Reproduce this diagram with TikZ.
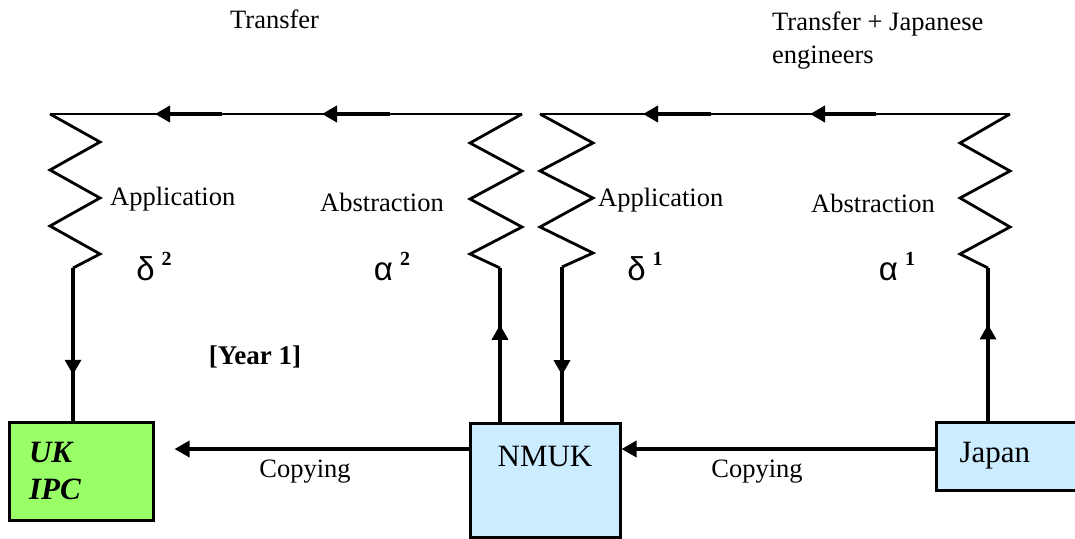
\documentclass[tikz,border=0pt]{standalone}
\usepackage{fontspec}
\setmainfont{Liberation Serif}
\newfontfamily\greekfont{Liberation Sans}
\usetikzlibrary{arrows.meta,decorations.markings}
\definecolor{ipcgreen}{HTML}{99FF66}
\definecolor{nmukblue}{HTML}{CCECFF}
\newcommand{\gsym}[2]{{\greekfont\fontsize{33}{33}\selectfont #1}\hspace{7pt}\raisebox{15pt}{\fontsize{20}{20}\selectfont\bfseries #2}}
\tikzset{
  spring/.style={line width=2.8pt},
  link/.style={line width=3.4pt},
  tip/.style={-{Triangle[width=16pt,length=15pt]}},
  midtip/.style={postaction={decorate},decoration={markings,mark=at position #1 with {\arrow{Triangle[width=16pt,length=15pt]}}}},
  box/.style={draw,line width=3pt,inner sep=0pt},
  lbl/.style={font=\fontsize{26.5}{33}\selectfont,inner sep=0pt},
  big/.style={font=\fontsize{31}{37}\selectfont},
}
\begin{document}
\begin{tikzpicture}[x=1pt,y=-1pt]
  \useasboundingbox (0,0) rectangle (1075,538);
  % headings
  \node[lbl,anchor=base west] (trleft) at (230,28) {Transfer};
  \node[lbl,anchor=north west,align=left] (trright) at (772,12) {Transfer + Japanese\\engineers};
  % springs
  \draw[spring] (50,114) coordinate (d2top) -- ++(50,28) -- ++(-50,28) -- ++(50,28) -- ++(-50,28) -- ++(50,28) -- ++(-27,14) coordinate (d2end);
  \draw[spring] (522,114) coordinate (a2top) -- ++(-52,29) -- ++(52,28) -- ++(-52,28) -- ++(52,28) -- ++(-52,27) -- ++(30,14) coordinate (a2end);
  \draw[spring] (540,114) coordinate (d1top) -- ++(53,29) -- ++(-53,28) -- ++(53,27) -- ++(-53,29) -- ++(53,26) -- ++(-31,14) coordinate (d1end);
  \draw[spring] (1010,114) coordinate (a1top) -- ++(-50,29) -- ++(50,28) -- ++(-50,27) -- ++(50,29) -- ++(-50,27) -- ++(28,14) coordinate (a1end);
  \draw[spring] (d2top) -- (a2top);
  \draw[spring] (d1top) -- (a1top);
  \draw[line width=4pt,tip] (222,114) -- (155,114);
  \draw[line width=4pt,tip] (390,114) -- (322,114);
  \draw[line width=4pt,tip] (711,114) -- (643,114);
  \draw[line width=4pt,tip] (876,114) -- (810,114);
  % labels
  \node[lbl,anchor=base west] (app2) at (110,205) {Application};
  \node[lbl,anchor=base west] (abs2) at (320,211) {Abstraction};
  \node[lbl,anchor=base west] (app1) at (598,206) {Application};
  \node[lbl,anchor=base west] (abs1) at (811,212) {Abstraction};
  \node[anchor=base,inner sep=0pt] (delta2) at (154,280) {\gsym{δ}{2}};
  \node[anchor=base,inner sep=0pt] (alpha2) at (392,280) {\gsym{α}{2}};
  \node[anchor=base,inner sep=0pt] (delta1) at (645,280) {\gsym{δ}{1}};
  \node[anchor=base,inner sep=0pt] (alpha1) at (897,280) {\gsym{α}{1}};
  \node[lbl,font=\fontsize{27}{33}\selectfont\bfseries] (year) at (255,357) {[Year 1]};
  % boxes
  \node[box,fill=ipcgreen,font=\fontsize{31}{37}\selectfont\bfseries\itshape,minimum width=144pt,minimum height=98pt,text width=104pt,inner xsep=20pt,align=left] (ukipc) at (81,471) {UK\\IPC};
  \node[box,fill=nmukblue,big,minimum width=150pt,text height=33pt,text depth=61pt,inner ysep=10pt,anchor=base] (nmuk) at (545,466) {NMUK};
  \node[box,fill=nmukblue,big,anchor=west,minimum height=68pt,text width=120pt,inner xsep=23pt,align=left] (japan) at (935,456) {Japan};
  % links
  \draw[link,midtip=0.7] (d2end) -- (d2end |- ukipc.north);
  \draw[link,midtip=0.63] (nmuk.north -| a2end) -- (a2end);
  \draw[link,midtip=0.7] (d1end) -- (d1end |- nmuk.north);
  \draw[link,midtip=0.63] (japan.north -| a1end) -- (a1end);
  \coordinate (lane) at (0,449);
  \draw[link,tip,shorten >=20pt] (nmuk.west |- lane) -- (ukipc.east |- lane);
  \draw[link,tip] (japan.west |- lane) -- (nmuk.east |- lane);
  \node[lbl] (copy2) at (305,472) {Copying};
  \node[lbl] (copy1) at (757,472) {Copying};
\end{tikzpicture}
\end{document}
